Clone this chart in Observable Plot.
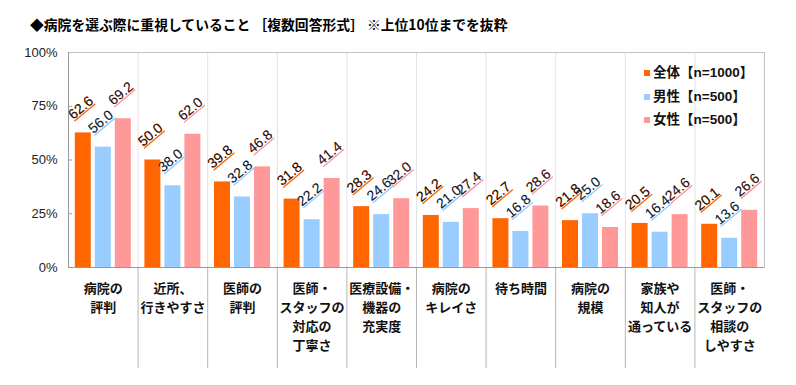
<!DOCTYPE html>
<html>
<head>
<meta charset="utf-8">
<script src="https://cdn.jsdelivr.net/npm/d3@7"></script>
<script src="https://cdn.jsdelivr.net/npm/@observablehq/plot@0.6"></script>
<style>
  body { margin: 0; background: #fff; }
  #wrap { position: relative; width: 796px; height: 385px; overflow: hidden; background: #fff; }
  #title { height: 40px; box-sizing: border-box; padding: 14px 0 0 30px; line-height: 16px;
           font: bold 13.8px "Noto Sans CJK JP", sans-serif; color: #000; white-space: pre; }
  #legend { position: absolute; left: 644px; top: 61px; font: bold 13.5px "Liberation Sans", "Noto Sans CJK JP", sans-serif; color: #111; }
  #legend .row { height: 23.5px; line-height: 23.5px; white-space: nowrap; }
  #legend .sw { display: inline-block; width: 6px; height: 6px; margin-right: 3px; vertical-align: 1px; }
</style>
</head>
<body>
<div id="wrap">
  <div id="title">◆病院を選ぶ際に重視していること ［複数回答形式］ ※上位10位までを抜粋</div>
  <div id="chart"></div>
  <div id="legend"></div>
</div>
<script>
const categories = [
  "病院の\n評判",
  "近所、\n行きやすさ",
  "医師の\n評判",
  "医師・\nスタッフの\n対応の\n丁寧さ",
  "医療設備・\n機器の\n充実度",
  "病院の\nキレイさ",
  "待ち時間",
  "病院の\n規模",
  "家族や\n知人が\n通っている",
  "医師・\nスタッフの\n相談の\nしやすさ"
];
const seriesNames = ["全体【n=1000】", "男性【n=500】", "女性【n=500】"];
const seriesColors = ["#FF6600", "#99CCFF", "#FF9999"];
const totalValues = [62.6, 50.0, 39.8, 31.8, 28.3, 24.2, 22.7, 21.8, 20.5, 20.1];
const maleValues  = [56.0, 38.0, 32.8, 22.2, 24.6, 21.0, 16.8, 25.0, 16.4, 13.6];
const femaleValues = [69.2, 62.0, 46.8, 41.4, 32.0, 27.4, 28.6, 18.6, 24.6, 26.6];
const yTicks = [0, 25, 50, 75, 100];

const seriesValues = [totalValues, maleValues, femaleValues];
const rows = [];
seriesValues.forEach((vals, s) => vals.forEach((v, i) => rows.push({cat: i, s, series: seriesNames[s], value: v})));

const pitch = 0.2874, barW = 0.23;
const center = d => d.cat + 0.5 + (d.s - 1) * pitch;

const labelOpts = {
  x: center, y: "value", text: d => d.value.toFixed(1),
  rotate: -40, textAnchor: "start", lineAnchor: "bottom",
  dx: -10, dy: -13, fontSize: 14
};
// coloured underline layer (drawn first), then dark text on top
const underlineMarks = [0, 1, 2].map(s => Plot.text(rows.filter(d => d.s === s), {
  ...labelOpts, fill: seriesColors[s], ariaDescription: "ul" + s
}));
const labelMarks = [0, 1, 2].map(s => Plot.text(rows.filter(d => d.s === s), {
  ...labelOpts, fill: "#1a1a1a"
}));

const chart = Plot.plot({
  width: 796, height: 345,
  marginLeft: 68, marginRight: 32, marginTop: 12, marginBottom: 118,
  x: {domain: [0, 10], axis: null},
  y: {domain: [0, 100], axis: null},
  color: {domain: seriesNames, range: seriesColors},
  style: {fontFamily: '"Liberation Sans", "Noto Sans CJK JP", sans-serif', background: "#fff", color: "#222"},
  marks: [
    Plot.ruleX(d3.range(1, 10), {stroke: "#e2e2e2"}),
    Plot.ruleX(d3.range(1, 10), {y1: 0, y2: -47, stroke: "#b5b5b5"}),
    Plot.rectY(rows, {x1: d => center(d) - barW / 2, x2: d => center(d) + barW / 2, y: "value", fill: "series"}),
    Plot.frame({stroke: "#c4c4c4"}),
    Plot.ruleX([0], {stroke: "#999"}),
    Plot.ruleY([0], {stroke: "#999"}),
    Plot.ruleY(yTicks.slice(1, 4), {x1: 0, x2: 0.06, stroke: "#999"}),
    Plot.axisY({ticks: yTicks, tickFormat: d => d + "%", tickSize: 0, tickPadding: 11, fontSize: 13, fill: "#222", label: null}),
    ...underlineMarks,
    ...labelMarks,
    Plot.text(categories, {x: (d, i) => i + 0.5, frameAnchor: "bottom", text: d => d,
      lineAnchor: "top", dy: 12, lineHeight: 1.46, fontSize: 13, fontWeight: "bold",
      fontFamily: '"Noto Sans CJK JP", sans-serif', fill: "#111"})
  ]
});
document.getElementById("chart").appendChild(chart);

[0, 1, 2].forEach(s => {
  d3.select(chart).selectAll(`g[aria-description="ul${s}"] text`)
    .style("text-decoration", "underline");
});

const legend = d3.select("#legend");
seriesNames.forEach((n, s) => {
  const row = legend.append("div").attr("class", "row");
  row.append("span").attr("class", "sw").style("background", seriesColors[s]);
  row.append("span").text(n);
});
</script>
</body>
</html>
